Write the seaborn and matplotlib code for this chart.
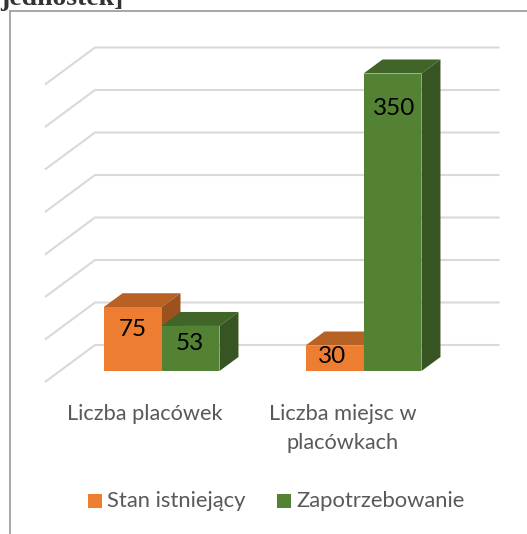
import matplotlib
matplotlib.use("Agg")
import matplotlib.pyplot as plt
import pandas as pd
import seaborn as sns
from matplotlib.patches import Polygon, Rectangle

categories = ["Liczba placówek", "Liczba miejsc w\nplacówkach"]
series_names = ["Stan istniejący", "Zapotrzebowanie"]
stan_istniejacy = [75, 30]
zapotrzebowanie = [53, 350]
grid_values = [0, 50, 100, 150, 200, 250, 300, 350]
title_fragment = "jednostek]"

W, H = 527, 534
sns.set_theme(style="white")
plt.rcParams["font.family"] = ["Lato", "DejaVu Sans"]

df = pd.DataFrame({
    "cat": categories * 2,
    "val": stan_istniejacy + zapotrzebowanie,
    "ser": [series_names[0]] * 2 + [series_names[1]] * 2,
})
FRONT = {series_names[0]: "#ED7D31", series_names[1]: "#548235"}
TOP = {series_names[0]: "#B86125", series_names[1]: "#416528"}
SIDE = {series_names[0]: "#9C521F", series_names[1]: "#375522"}

fig = plt.figure(figsize=(W / 100, H / 100), dpi=100, facecolor="white")
ax = fig.add_axes([0, 0, 1, 1])
sns.barplot(data=df, x="cat", y="val", hue="ser", hue_order=series_names, palette=FRONT,
            width=0.574, gap=0, dodge=True, legend=False, saturation=1, linewidth=0, ax=ax, zorder=5)

# axes span the whole figure; map data to pixels
px_per_cat = 202.0
x0_px = 161.5
px_per_unit = 0.85
y0_px = 371.0
ax.set_xlim(-x0_px / px_per_cat, (W - x0_px) / px_per_cat)
ax.set_ylim(-(H - y0_px) / px_per_unit, y0_px / px_per_unit)
ax.axis("off")


def X(px):
    return (px - x0_px) / px_per_cat


def Y(py):
    return (y0_px - py) / px_per_unit


# Wall grid lines: front edge, back edge
wall_dx, wall_dy = 50, 37
grid_left, grid_right = 45, 499.5
base_front_offset = 11
for v in grid_values:
    yb = Y(y0_px - v * px_per_unit + base_front_offset - wall_dy)
    yf = Y(y0_px - v * px_per_unit + base_front_offset)
    ax.plot([X(grid_left), X(grid_left + wall_dx), X(grid_right)], [yf, yb, yb],
            color="#D9D9D9", lw=1.5, zorder=1, solid_joinstyle="miter", solid_capstyle="butt")

# 3D depth of each bar, derived from the seaborn bar patches
dx, dy = 19 / px_per_cat, 14 / px_per_unit
bars = list(ax.patches)
sers = [series_names[0]] * 2 + [series_names[1]] * 2
order = sorted(range(len(bars)), key=lambda i: bars[i].get_x())
# pixel nudges of the value labels relative to the top of each front face
label_drop = {75: 20, 53: 16, 350: 33, 30: 9}
label_shift = {75: 0.5, 53: -0.5, 350: 1.5, 30: -2.5}
z = 6
for i in order:
    b = bars[i]
    s = sers[i]
    x1, x2 = b.get_x(), b.get_x() + b.get_width()
    h = b.get_height()
    b.set_zorder(z + 0.5)
    ax.add_patch(Polygon([(x1, h), (x2, h), (x2 + dx, h + dy), (x1 + dx, h + dy)],
                         facecolor=TOP[s], edgecolor="none", zorder=z))
    ax.add_patch(Polygon([(x2, 0), (x2, h), (x2 + dx, h + dy), (x2 + dx, dy)],
                         facecolor=SIDE[s], edgecolor="none", zorder=z))
    key = int(round(h))
    ax.text((x1 + x2) / 2 + label_shift[key] / px_per_cat, h - label_drop[key] / px_per_unit,
            f"{key}", ha="center", va="center_baseline", fontsize=17.5, color="black", zorder=20)
    z += 2

# category labels
for c, cx in zip(categories, [145, 343]):
    ax.text(X(cx), Y(404.5), c, ha="center", va="top", fontsize=15.7, color="#595959",
            linespacing=1.55)

# legend
leg_y = 501
for name, sx, tx in zip(series_names, [88.3, 277], [107, 296.5]):
    ax.add_patch(Rectangle((X(sx), Y(leg_y + 6.8)), 13.5 / px_per_cat, 13.6 / px_per_unit,
                           facecolor=FRONT[name], edgecolor="none"))
    ax.text(X(tx), Y(leg_y), name, ha="left", va="center", fontsize=15.8, color="#595959")

# chart frame and clipped heading above it
ax.plot([X(9.7), X(9.7)], [Y(534), Y(10.5)], color="#A0A0A0", lw=1.3, zorder=2,
        solid_capstyle="projecting")
ax.plot([X(9.7), X(527)], [Y(10.5), Y(10.5)], color="#A0A0A0", lw=1.3, zorder=2)
fig.text(0, 1 - 5 / H, title_fragment, family="Liberation Serif", weight="bold",
         fontsize=20, color="#333333", va="baseline", ha="left")

fig.savefig("out.png", dpi=100)
